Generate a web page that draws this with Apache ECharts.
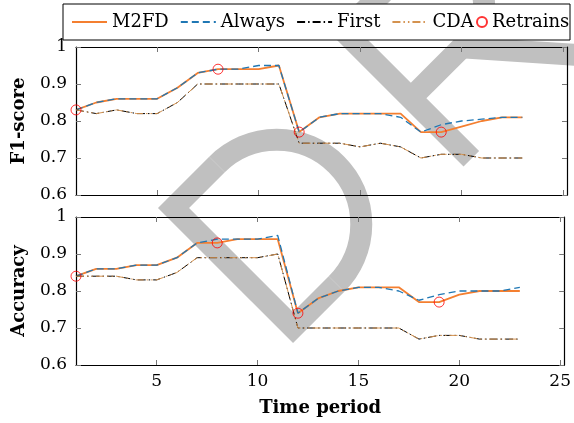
<!DOCTYPE html>
<html>
<head>
<meta charset="utf-8">
<script src="https://cdn.jsdelivr.net/npm/echarts@6/dist/echarts.min.js"></script>
<style>
  html, body { margin: 0; padding: 0; background: #fff; }
  #chart { width: 574px; height: 423px; }
</style>
</head>
<body>
<div id="chart"></div>
<script>
// time periods on the x axis
const periods = [1, 2, 3, 4, 5, 6, 7, 8, 9, 10, 11, 12, 13, 14, 15, 16, 17, 18, 19, 20, 21, 22, 23];

// F1-score
const f1M2FD   = [0.83, 0.85, 0.86, 0.86, 0.86, 0.89, 0.93, 0.94, 0.94, 0.94, 0.95, 0.77, 0.81, 0.82, 0.82, 0.82, 0.82, 0.77, 0.77, 0.785, 0.80, 0.81, 0.81];
const f1Always = [0.83, 0.85, 0.86, 0.86, 0.86, 0.89, 0.93, 0.94, 0.94, 0.95, 0.95, 0.77, 0.81, 0.82, 0.82, 0.82, 0.81, 0.77, 0.79, 0.80, 0.805, 0.81, 0.81];
const f1First  = [0.83, 0.82, 0.83, 0.82, 0.82, 0.85, 0.90, 0.90, 0.90, 0.90, 0.90, 0.74, 0.74, 0.74, 0.73, 0.74, 0.73, 0.70, 0.71, 0.71, 0.70, 0.70, 0.70];
const f1CDA    = [0.83, 0.82, 0.83, 0.82, 0.82, 0.85, 0.90, 0.90, 0.90, 0.90, 0.90, 0.74, 0.74, 0.74, 0.73, 0.74, 0.73, 0.70, 0.71, 0.71, 0.70, 0.70, 0.70];

// Accuracy
const accM2FD   = [0.84, 0.86, 0.86, 0.87, 0.87, 0.89, 0.93, 0.93, 0.94, 0.94, 0.94, 0.74, 0.78, 0.80, 0.81, 0.81, 0.81, 0.77, 0.77, 0.79, 0.80, 0.80, 0.80];
const accAlways = [0.84, 0.86, 0.86, 0.87, 0.87, 0.89, 0.93, 0.94, 0.94, 0.94, 0.95, 0.74, 0.78, 0.80, 0.81, 0.81, 0.80, 0.775, 0.79, 0.80, 0.80, 0.80, 0.81];
const accFirst  = [0.84, 0.84, 0.84, 0.83, 0.83, 0.85, 0.89, 0.89, 0.89, 0.89, 0.90, 0.70, 0.70, 0.70, 0.70, 0.70, 0.70, 0.67, 0.68, 0.68, 0.67, 0.67, 0.67];
const accCDA    = [0.84, 0.84, 0.84, 0.83, 0.83, 0.85, 0.89, 0.89, 0.89, 0.89, 0.90, 0.70, 0.70, 0.70, 0.70, 0.70, 0.70, 0.67, 0.68, 0.68, 0.67, 0.67, 0.67];

// periods where M2FD retrained
const retrainPeriods = [1, 8, 12, 19];

const xTicks = [5, 10, 15, 20, 25];
const yTicks = [0.6, 0.7, 0.8, 0.9, 1];

const FONT = "DejaVu Serif";

function pairs(values) {
  return periods.map((p, i) => [p, values[i]]);
}
function retrainPoints(values) {
  return retrainPeriods.map(p => [p, values[periods.indexOf(p)]]);
}

function xAx(grid, pos, withLabels) {
  return {
    type: "value", gridIndex: grid, position: pos, min: 1, max: 25.2, z: 5,
    name: withLabels ? "Time period" : "",
    nameLocation: "middle", nameGap: 34,
    nameTextStyle: { fontFamily: FONT, fontWeight: "bold", fontSize: 18, color: "#000" },
    axisLine: { show: true, onZero: false, lineStyle: { color: "#000", width: 1.2 } },
    axisTick: { show: true, inside: true, length: 5, customValues: xTicks, lineStyle: { color: "#777" } },
    axisLabel: { show: withLabels, customValues: xTicks, margin: 8, fontFamily: FONT, fontSize: 17, color: "#000" },
    splitLine: { show: false }
  };
}
function yAx(grid, pos, name) {
  return {
    type: "value", gridIndex: grid, position: pos, min: 0.6, max: 1, z: 5,
    name: name || "",
    nameLocation: "middle", nameGap: 48,
    nameTextStyle: { fontFamily: FONT, fontWeight: "bold", fontSize: 18, color: "#000" },
    axisLine: { show: true, onZero: false, lineStyle: { color: "#000", width: 1.2 } },
    axisTick: { show: true, inside: true, length: 5, customValues: yTicks, lineStyle: { color: "#777" } },
    axisLabel: {
      show: !!name, customValues: yTicks, margin: 9, fontFamily: FONT, fontSize: 17, color: "#000",
      formatter: v => (v === 1 ? "1" : v.toFixed(1))
    },
    splitLine: { show: false }
  };
}

function lineSeries(name, values, grid, style, z) {
  return {
    name: name, type: "line", xAxisIndex: grid * 2, yAxisIndex: grid * 2,
    data: pairs(values), symbol: "none", z: z, animation: false,
    lineStyle: style, itemStyle: { color: style.color }
  };
}

const sM2FD   = { color: "#f47f30", width: 1.8 };
const sAlways = { color: "#1f77b4", width: 1.3, type: [7, 4] };
const sFirst  = { color: "#000", width: 1, type: [8, 3, 1.5, 3] };
const sCDA    = { color: "#d4924f", width: 1, type: [8, 3, 1.5, 3, 1.5, 3] };

function retrainSeries(values, grid) {
  return {
    name: "Retrains", type: "scatter", xAxisIndex: grid * 2, yAxisIndex: grid * 2,
    data: retrainPoints(values), symbol: "circle", symbolSize: 10, z: 8, animation: false,
    itemStyle: { color: "rgba(255,255,255,0)", borderColor: "#ff0000", borderWidth: 1 }
  };
}

// watermark strokes
const wmStyle = { fill: null, stroke: "#c0c0c0", lineWidth: 22, lineJoin: "miter", lineCap: "butt" };
function wmLine(points) {
  return { type: "polyline", shape: { points: points }, style: wmStyle };
}
function wmArc(cx, cy, r) {
  return {
    type: "arc", shape: { cx: cx, cy: cy, r: r, startAngle: -Math.PI / 2, endAngle: Math.PI / 2, clockwise: true },
    style: wmStyle
  };
}

const chart = echarts.init(document.getElementById("chart"));
chart.setOption({
  backgroundColor: "#fff",
  animation: false,
  grid: [
    { left: 76, top: 47, width: 491, height: 148 },
    { left: 76, top: 217, width: 491, height: 148 }
  ],
  xAxis: [xAx(0, "bottom", false), xAx(0, "top", false), xAx(1, "bottom", true), xAx(1, "top", false)],
  yAxis: [yAx(0, "left", "F1-score"), yAx(0, "right"), yAx(1, "left", "Accuracy"), yAx(1, "right")],
  legend: [
    {
      data: ["M2FD", "Always", "First", "CDA"], left: 71, top: 13, z: 11, padding: 0,
      itemWidth: 35, itemHeight: 14, itemGap: 11,
      itemStyle: { opacity: 0 },
      textStyle: { fontFamily: FONT, fontSize: 18, color: "#000" }
    },
    {
      data: ["Retrains"], left: 476, top: 13, z: 11, padding: 0,
      itemWidth: 10, itemHeight: 10,
      textStyle: { fontFamily: FONT, fontSize: 18, color: "#000" }
    }
  ],
  graphic: [
    // "D" of the watermark
    {
      type: "group", x: 225.5, y: 275.5, rotation: Math.PI / 4, z: 1, silent: true,
      children: [
        wmLine([[72.5, -84.5], [11, -84.5], [11, 84.5], [72.5, 84.5]]),
        wmArc(72.5, 0, 84.5)
      ]
    },
    // "R" of the watermark
    {
      type: "group", x: 396, y: 99, rotation: Math.PI / 4, z: 1, silent: true,
      children: [
        wmLine([[11, 95.5], [11, -84.5], [95, -84.5]]),
        wmArc(95, -37.25, 47.25),
        wmLine([[95, 10], [11, 10]]),
        wmLine([[83, 10], [158, 95.5]])
      ]
    },
    // legend frame
    {
      type: "rect", z: 10, silent: true,
      shape: { x: 63, y: 4, width: 507, height: 36 },
      style: { fill: "#fff", stroke: "#000", lineWidth: 1 }
    }
  ],
  series: [
    lineSeries("M2FD", f1M2FD, 0, sM2FD, 3),
    lineSeries("Always", f1Always, 0, sAlways, 4),
    lineSeries("First", f1First, 0, sFirst, 5),
    lineSeries("CDA", f1CDA, 0, sCDA, 6),
    retrainSeries(f1M2FD, 0),
    lineSeries("M2FD", accM2FD, 1, sM2FD, 3),
    lineSeries("Always", accAlways, 1, sAlways, 4),
    lineSeries("First", accFirst, 1, sFirst, 5),
    lineSeries("CDA", accCDA, 1, sCDA, 6),
    retrainSeries(accM2FD, 1)
  ]
});
</script>
</body>
</html>
